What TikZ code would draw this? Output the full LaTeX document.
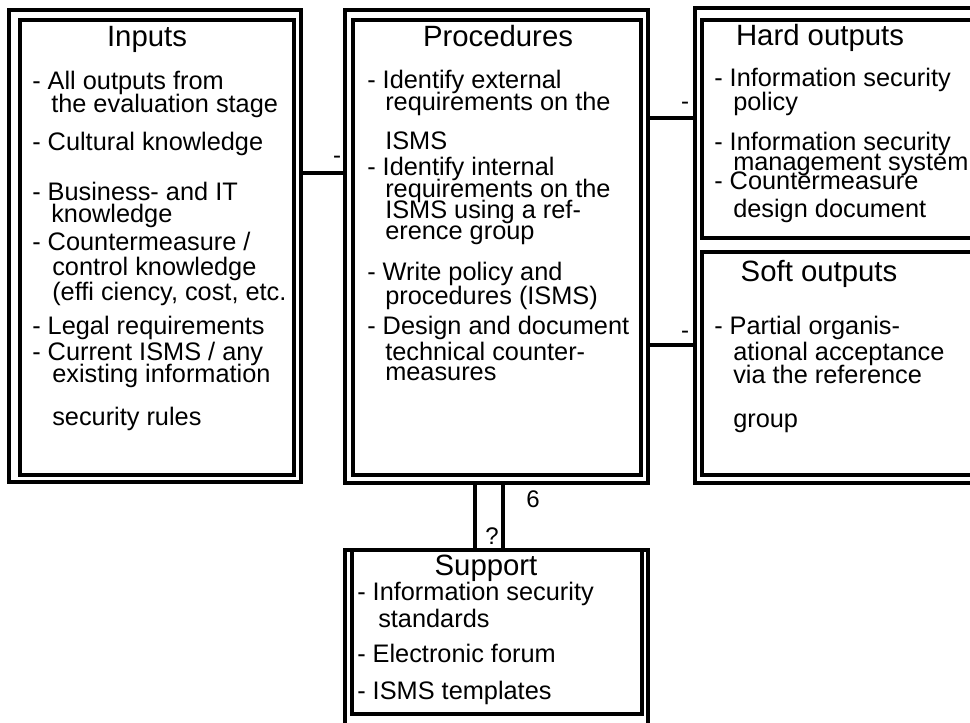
\documentclass[tikz,border=0pt]{standalone}
\usepackage{fontspec}
\setmainfont{Liberation Sans}
\newcommand\tln[4]{\node[txt] (#1) at (#2,#3) {#4};}
\newcommand\ttn[4]{\node[ttl] (#1) at (#2,#3) {#4};}
\newcommand\bxn[5]{\node[box, minimum width={(#4-#2)*0.75pt}, minimum height={(#5-#3)*0.75pt}] (#1) at ({(#2+#4)/2},{(#3+#5)/2}) {};}
\begin{document}
\begin{tikzpicture}[x=0.75pt,y=-0.75pt,
  box/.style={draw, rectangle, line width=2.5pt, inner sep=0pt, outer sep=0pt},
  conn/.style={draw, line width=2.5pt},
  txt/.style={anchor=base west, inner sep=0pt, font=\fontsize{19}{22}\selectfont},
  ttl/.style={anchor=base, inner sep=0pt, font=\fontsize{22}{26}\selectfont},
  lbl/.style={anchor=base, inner sep=0pt, font=\fontsize{18}{21}\selectfont}]
\useasboundingbox (0,0) rectangle (970,722);
\clip (0,0) rectangle (970,722);
\fill[white] (0,0) rectangle (970,722);
% boxes
\bxn{inO}{9}{10}{301}{482}
\bxn{inI}{20}{20}{294}{475}
\bxn{prO}{345}{10}{648}{483}
\bxn{prI}{353}{20}{641}{475}
\bxn{rtO}{695}{8}{990}{483}
\bxn{hdI}{702}{20}{985}{238}
\bxn{sfI}{702}{252}{985}{475}
\bxn{suO}{345}{550}{648}{740}
\bxn{suI}{352}{550}{642}{714}
% connector coordinates
\coordinate (yA) at (0,173);
\coordinate (yB) at (0,118);
\coordinate (yC) at (0,345);
\coordinate (xA) at (475,0);
\coordinate (xB) at (503,0);
\draw[conn] (inO.east |- yA) -- (prO.west |- yA);
\draw[conn] (prO.east |- yB) -- (rtO.west |- yB);
\draw[conn] (prO.east |- yC) -- (rtO.west |- yC);
\draw[conn] (prO.south -| xA) -- (suO.north -| xA);
\draw[conn] (prO.south -| xB) -- (suO.north -| xB);
\node[lbl] (lA) at (337,163) {-};
\node[lbl] (lB) at (685,109) {-};
\node[lbl] (lC) at (685,338) {-};
\node[lbl] (lD) at (533,507) {6};
\node[lbl] (lE) at (492,544) {?};
% Inputs
\ttn{t1}{147}{46}{Inputs}
\tln{i1}{32}{89}{- All outputs from}
\tln{i2}{51}{112}{the evaluation stage}
\tln{i3}{32}{150}{- Cultural knowledge}
\tln{i4}{32}{200}{- Business- and IT}
\tln{i5}{51}{222}{knowledge}
\tln{i6}{32}{250}{- Countermeasure /}
\tln{i7}{52}{275}{control knowledge}
\tln{i8}{52}{300}{(effi ciency, cost, etc.}
\tln{i9}{32}{334}{- Legal requirements}
\tln{i10}{32}{360}{- Current ISMS / any}
\tln{i11}{52}{382}{existing information}
\tln{i12}{52}{425}{security rules}
% Procedures
\ttn{t2}{498}{46}{Procedures}
\tln{p1}{367}{88}{- Identify external}
\tln{p2}{385}{110}{requirements on the}
\tln{p3}{385}{149}{ISMS}
\tln{p4}{367}{175}{- Identify internal}
\tln{p5}{385}{197}{requirements on the}
\tln{p6}{385}{218}{ISMS using a ref-}
\tln{p7}{385}{239}{erence group}
\tln{p8}{367}{280}{- Write policy and}
\tln{p9}{385}{304}{procedures (ISMS)}
\tln{p10}{367}{334}{- Design and document}
\tln{p11}{385}{360}{technical counter-}
\tln{p12}{385}{380}{measures}
% Hard outputs
\ttn{t3}{820}{45}{Hard outputs}
\tln{h1}{714}{86}{- Information security}
\tln{h2}{733}{110}{policy}
\tln{h3}{714}{150}{- Information security}
\tln{h4}{733}{170}{management system}
\tln{h5}{714}{189}{- Countermeasure}
\tln{h6}{733}{217}{design document}
% Soft outputs
\ttn{t4}{819}{281}{Soft outputs}
\tln{s1}{714}{334}{- Partial organis-}
\tln{s2}{733}{360}{ational acceptance}
\tln{s3}{733}{383}{via the reference}
\tln{s4}{733}{427}{group}
% Support
\ttn{t5}{486}{575}{Support}
\tln{u1}{357}{600}{- Information security}
\tln{u2}{378}{627}{standards}
\tln{u3}{357}{662}{- Electronic forum}
\tln{u4}{357}{699}{- ISMS templates}
\end{tikzpicture}
\end{document}
